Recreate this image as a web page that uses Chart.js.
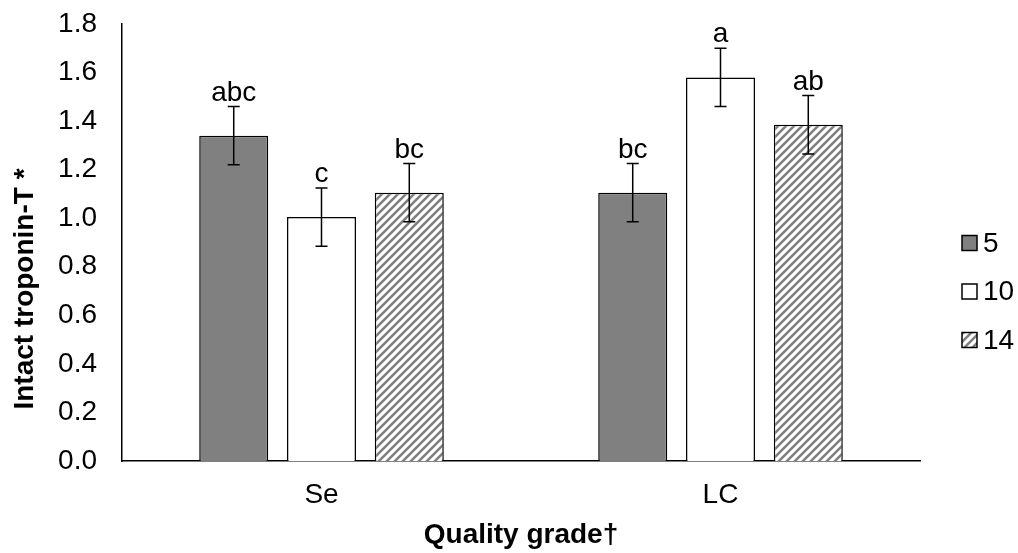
<!DOCTYPE html>
<html>
<head>
<meta charset="utf-8">
<script src="https://cdn.jsdelivr.net/npm/chart.js@4.4.1/dist/chart.umd.min.js"></script>
<style>
    html, body { margin: 0; padding: 0; background: #fff; }
</style>
</head>
<body>
<canvas id="myChart" width="1018" height="553"></canvas>
<script>
/* data */
const categories = ['Se', 'LC'];
const seriesNames = ['5', '10', '14'];

const values5 = [1.34, 1.105];
const values10 = [1.005, 1.58];
const values14 = [1.105, 1.385];

const errors5 = [0.12, 0.12];
const errors10 = [0.12, 0.12];
const errors14 = [0.12, 0.12];

const letters5 = ['abc', 'bc'];
const letters10 = ['c', 'a'];
const letters14 = ['bc', 'ab'];

const yMin = 0;
const yMax = 1.8;
const yStep = 0.2;

const yTitle = 'Intact troponin-T *';
const xTitle = 'Quality grade\u2020';
/* data end */

const FONT = '"Liberation Sans", Arial, sans-serif';

// diagonal stripes like the excel "wide upward diagonal" fill
function makeHatch() {
    const c = document.createElement('canvas');
    c.width = 8;
    c.height = 8;
    const g = c.getContext('2d');
    g.fillStyle = '#fff';
    g.fillRect(0, 0, 8, 8);
    g.strokeStyle = '#808080';
    g.lineWidth = 2.6;
    g.beginPath();
    g.moveTo(-2, 10); g.lineTo(10, -2);
    g.moveTo(-6, 6); g.lineTo(6, -6);
    g.moveTo(2, 14); g.lineTo(14, 2);
    g.stroke();
    return g.createPattern(c, 'repeat');
}

const ctx = document.getElementById('myChart');
const hatch = makeHatch();

const data = {
    labels: categories,
    datasets: [{
        label: seriesNames[0],
        data: values5,
        errors: errors5,
        letters: letters5,
        backgroundColor: '#808080',
        borderColor: '#000',
        borderWidth: 1.5
    }, {
        label: seriesNames[1],
        data: values10,
        errors: errors10,
        letters: letters10,
        backgroundColor: '#fff',
        borderColor: '#000',
        borderWidth: 1.5
    }, {
        label: seriesNames[2],
        data: values14,
        errors: errors14,
        letters: letters14,
        backgroundColor: hatch,
        borderColor: '#000',
        borderWidth: 1.5
    }]
};

/* error bars, letters, legend and y title */
const extras = {
    id: 'extras',
    afterDatasetsDraw(chart) {
        const c = chart.ctx;
        const y = chart.scales.y;
        c.save();
        chart.data.datasets.forEach((ds, i) => {
            chart.getDatasetMeta(i).data.forEach((bar, j) => {
                const v = ds.data[j];
                const e = ds.errors[j];
                const top = y.getPixelForValue(v + e);
                const bot = y.getPixelForValue(v - e);
                c.strokeStyle = '#000';
                c.lineWidth = 1.5;
                c.beginPath();
                c.moveTo(bar.x, top); c.lineTo(bar.x, bot);
                c.moveTo(bar.x - 6, top); c.lineTo(bar.x + 6, top);
                c.moveTo(bar.x - 6, bot); c.lineTo(bar.x + 6, bot);
                c.stroke();

                c.fillStyle = '#000';
                c.font = '28px ' + FONT;
                c.textAlign = 'center';
                c.textBaseline = 'alphabetic';
                c.fillText(ds.letters[j], bar.x, top - 6);
            });
        });
        c.restore();
    },
    afterDraw(chart) {
        const c = chart.ctx;
        c.save();
        // legend
        chart.data.datasets.forEach((ds, i) => {
            const cy = 243 + i * 48.5;
            c.fillStyle = ds.backgroundColor;
            c.fillRect(962, cy - 7.5, 15, 15);
            c.strokeStyle = '#000';
            c.lineWidth = 1.5;
            c.strokeRect(962, cy - 7.5, 15, 15);
            c.fillStyle = '#000';
            c.font = '28px ' + FONT;
            c.textAlign = 'left';
            c.textBaseline = 'middle';
            c.fillText(ds.label, 983, cy + 1);
        });
        // y title
        c.translate(25, 289);
        c.rotate(-Math.PI / 2);
        c.font = 'bold 28px ' + FONT;
        c.textAlign = 'center';
        c.textBaseline = 'middle';
        c.fillText(yTitle, 0, 0);
        c.restore();
    }
};

const myChart = new Chart(ctx, {
    type: 'bar',
    data: data,
    options: {
        responsive: false,
        animation: false,
        devicePixelRatio: 1,
        categoryPercentage: 0.66,
        barPercentage: 0.786,
        layout: {
            padding: { top: 24, right: 98, bottom: 0, left: 0 }
        },
        plugins: {
            legend: { display: false },
            tooltip: { enabled: false }
        },
        scales: {
            x: {
                grid: { display: false, drawTicks: false },
                border: { display: true, color: '#000', width: 1.5 },
                ticks: {
                    color: '#000',
                    padding: 17,
                    font: { family: FONT, size: 28 }
                },
                title: {
                    display: true,
                    text: xTitle,
                    color: '#000',
                    padding: { top: 0, bottom: 1 },
                    font: { family: FONT, size: 28, weight: 'bold' }
                },
                afterFit(scale) {
                    scale.height = 92;
                    scale.paddingLeft = 0;
                    scale.paddingRight = 0;
                }
            },
            y: {
                min: yMin,
                max: yMax,
                grid: { display: false, drawTicks: false },
                border: { display: true, color: '#000', width: 1.5 },
                ticks: {
                    stepSize: yStep,
                    color: '#000',
                    padding: 25,
                    font: { family: FONT, size: 28 },
                    callback: (v) => Number(v).toFixed(1)
                },
                afterFit(scale) {
                    scale.width = 122;
                    scale.paddingTop = 0;
                    scale.paddingBottom = 0;
                }
            }
        }
    },
    plugins: [extras]
});
</script>
</body>
</html>
